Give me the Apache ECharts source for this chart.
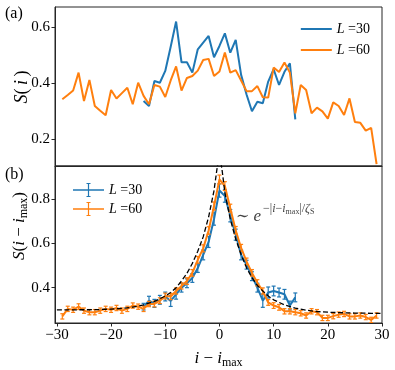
<!DOCTYPE html>
<html>
<head>
<meta charset="utf-8">
<script src="https://cdn.jsdelivr.net/npm/echarts@6/dist/echarts.min.js"></script>
<style>
  html, body { margin: 0; padding: 0; background: #fff; }
  #main { width: 395px; height: 370px; }
</style>
</head>
<body>
<div id="main"></div>
<script>
// tick labels
const xTicks = [-30, -20, -10, 0, 10, 20, 30]
const yTicksA = [0.2, 0.4, 0.6]
const yTicksB = [0.4, 0.6, 0.8]

// site positions
const sites60 = [-29, -28, -27, -26, -25, -24, -23, -22, -21, -20, -19, -18, -17, -16, -15, -14, -13, -12, -11, -10,
  -9, -8, -7, -6, -5, -4, -3, -2, -1, 0, 1, 2, 3, 4, 5, 6, 7, 8, 9, 10,
  11, 12, 13, 14, 15, 16, 17, 18, 19, 20, 21, 22, 23, 24, 25, 26, 27, 28, 29]
const sites30 = [-14, -13, -12, -11, -10, -9, -8, -7, -6, -5, -4, -3, -2, -1, 0,
  1, 2, 3, 4, 5, 6, 7, 8, 9, 10, 11, 12, 13, 14]

// (a) S(i)
const sA30 = [0.337, 0.319, 0.408, 0.402, 0.444, 0.53, 0.62, 0.475, 0.475, 0.438, 0.521, 0.545, 0.569, 0.493, 0.533,
  0.578, 0.509, 0.555, 0.43, 0.36, 0.30, 0.334, 0.329, 0.406, 0.45, 0.394, 0.441, 0.471, 0.271]
const sA60 = [0.343, 0.358, 0.374, 0.438, 0.337, 0.412, 0.319, 0.302, 0.286, 0.376, 0.346, 0.365, 0.384, 0.325, 0.402,
  0.355, 0.325, 0.394, 0.388, 0.351, 0.41, 0.46, 0.374, 0.419, 0.426, 0.445, 0.483, 0.487, 0.426, 0.442,
  0.51, 0.438, 0.447, 0.41, 0.372, 0.372, 0.39, 0.35, 0.349, 0.456, 0.44, 0.474, 0.438, 0.293, 0.394,
  0.376, 0.293, 0.313, 0.30, 0.274, 0.332, 0.319, 0.287, 0.346, 0.262, 0.259, 0.231, 0.241, 0.112]

// (b) S(i - imax) with error bars
const sB30 = [0.314, 0.341, 0.329, 0.345, 0.36, 0.34, 0.37, 0.40, 0.42, 0.444, 0.489, 0.548, 0.607, 0.711, 0.84,
  0.815, 0.726, 0.64, 0.548, 0.504, 0.452, 0.40, 0.341, 0.378, 0.385, 0.378, 0.37, 0.319, 0.356]
const eB30 = [0.015, 0.02, 0.018, 0.02, 0.02, 0.025, 0.022, 0.02, 0.02, 0.02, 0.02, 0.022, 0.025, 0.028, 0.03,
  0.028, 0.028, 0.025, 0.022, 0.02, 0.02, 0.02, 0.03, 0.025, 0.022, 0.02, 0.022, 0.02, 0.02]
const sB60 = [0.27, 0.304, 0.30, 0.314, 0.296, 0.289, 0.289, 0.296, 0.304, 0.30, 0.308, 0.296, 0.304, 0.319, 0.314,
  0.304, 0.326, 0.326, 0.341, 0.362, 0.36, 0.385, 0.408, 0.43, 0.467, 0.526, 0.578, 0.659, 0.77, 0.89,
  0.86, 0.76, 0.66, 0.58, 0.519, 0.467, 0.422, 0.385, 0.333, 0.319, 0.311, 0.293, 0.293, 0.289, 0.284,
  0.274, 0.293, 0.289, 0.263, 0.263, 0.271, 0.278, 0.281, 0.27, 0.27, 0.274, 0.267, 0.254, 0.274]
const eB60 = [0.012, 0.012, 0.012, 0.013, 0.012, 0.012, 0.012, 0.012, 0.012, 0.012, 0.012, 0.012, 0.012, 0.012, 0.012,
  0.012, 0.012, 0.013, 0.013, 0.013, 0.014, 0.014, 0.014, 0.015, 0.015, 0.015, 0.016, 0.017, 0.018, 0.02,
  0.02, 0.018, 0.017, 0.016, 0.015, 0.015, 0.014, 0.014, 0.013, 0.013, 0.013, 0.012, 0.012, 0.012, 0.012,
  0.012, 0.012, 0.012, 0.012, 0.012, 0.012, 0.012, 0.012, 0.012, 0.012, 0.012, 0.012, 0.012, 0.012]

// dashed fit ~ exp(-|i-imax|/zeta)
const fitX = [-30, -28, -26, -24, -22, -20, -18, -16, -14, -12, -10, -9, -8, -7, -6, -5, -4, -3, -2, -1, -0.5, 0,
  0.5, 1, 2, 3, 4, 5, 6, 7, 8, 9, 10, 12, 14, 16, 18, 20, 22, 25, 28, 30]
const fitY = [0.299, 0.299, 0.300, 0.300, 0.301, 0.303, 0.306, 0.312, 0.322, 0.338, 0.362, 0.378, 0.40, 0.43, 0.465, 0.51,
  0.565, 0.63, 0.72, 0.84, 0.93, 1.01, 0.93, 0.83, 0.71, 0.62, 0.55, 0.49, 0.445, 0.41, 0.385, 0.362, 0.345,
  0.322, 0.307, 0.298, 0.292, 0.289, 0.287, 0.285, 0.284, 0.284]

const C30 = '#1f77b4'
const C60 = '#ff7f0e'
const AX = '#262626'
const SERIF = '"Liberation Serif", "DejaVu Serif", serif'

const minus = v => String(v).replace('-', '\u2212')
const pairs = (xs, ys) => xs.map((x, k) => [x, ys[k]])

function errorBars (xs, ys, es, color, z) {
  return {
    type: 'custom',
    xAxisIndex: 1,
    yAxisIndex: 1,
    z: z,
    silent: true,
    clip: true,
    data: xs.map((x, k) => [x, ys[k] - es[k], ys[k] + es[k]]),
    encode: { x: 0, y: [1, 2] },
    renderItem (params, api) {
      const lo = api.coord([api.value(0), api.value(1)])
      const hi = api.coord([api.value(0), api.value(2)])
      const w = 2
      const st = { stroke: color, lineWidth: 1.2 }
      return {
        type: 'group',
        children: [
          { type: 'line', shape: { x1: lo[0], y1: lo[1], x2: hi[0], y2: hi[1] }, style: st },
          { type: 'line', shape: { x1: lo[0] - w, y1: lo[1], x2: lo[0] + w, y2: lo[1] }, style: st },
          { type: 'line', shape: { x1: hi[0] - w, y1: hi[1], x2: hi[0] + w, y2: hi[1] }, style: st }
        ]
      }
    }
  }
}

const legendRich = { i: { fontFamily: SERIF, fontStyle: 'italic', fontSize: 14, color: '#000' } }
const legendFmt = name => '{i|L} =' + name.split('=')[1]

const axisCommon = {
  type: 'value',
  axisLine: { show: true, onZero: false, lineStyle: { color: AX, width: 1 } },
  splitLine: { show: false }
}

const chart = echarts.init(document.getElementById('main'))
chart.setOption({
  animation: false,
  backgroundColor: '#fff',
  grid: [
    { left: 55, right: 13, top: 7, height: 159, show: true, borderColor: AX, borderWidth: 1 },
    { left: 55, right: 13, top: 166, height: 160, show: true, borderColor: AX, borderWidth: 1 }
  ],
  xAxis: [
    Object.assign({}, axisCommon, {
      gridIndex: 0, min: -30.35, max: 30,
      axisTick: { show: false }, axisLabel: { show: false }
    }),
    Object.assign({}, axisCommon, {
      gridIndex: 1, min: -30.35, max: 30,
      axisTick: { show: true, length: 3.5, customValues: xTicks, lineStyle: { color: AX } },
      axisLabel: { customValues: xTicks, formatter: minus, margin: 5, fontFamily: SERIF, fontSize: 15, color: '#000' },
      name: '{it|i} \u2212 {it|i}{sub|max}',
      nameLocation: 'middle',
      nameGap: 26,
      nameTextStyle: {
        fontFamily: SERIF, fontSize: 17, color: '#000',
        rich: {
          it: { fontFamily: SERIF, fontStyle: 'italic', fontSize: 17, color: '#000' },
          sub: { fontFamily: SERIF, fontSize: 12, color: '#000', padding: [8, 0, 0, 0] }
        }
      }
    })
  ],
  yAxis: [
    Object.assign({}, axisCommon, {
      gridIndex: 0, min: 0.105, max: 0.672,
      axisTick: { show: true, length: 3.5, customValues: yTicksA, lineStyle: { color: AX } },
      axisLabel: { customValues: yTicksA, formatter: v => v.toFixed(1), margin: 5, fontFamily: SERIF, fontSize: 15, color: '#000' }
    }),
    Object.assign({}, axisCommon, {
      gridIndex: 1, min: 0.24, max: 0.951,
      axisTick: { show: true, length: 3.5, customValues: yTicksB, lineStyle: { color: AX } },
      axisLabel: { customValues: yTicksB, formatter: v => v.toFixed(1), margin: 5, fontFamily: SERIF, fontSize: 15, color: '#000' }
    })
  ],
  legend: [
    {
      data: ['L =30', 'L =60'],
      orient: 'vertical',
      right: 20,
      top: 17,
      itemWidth: 31,
      itemHeight: 2,
      itemGap: 7,
      icon: 'path://M0,0H31V2H0Z',
      selectedMode: false,
      formatter: legendFmt,
      textStyle: { fontFamily: SERIF, fontSize: 14, color: '#000', rich: legendRich }
    },
    {
      data: ['L =30', 'L =60'],
      orient: 'vertical',
      left: 68,
      top: 178,
      itemWidth: 31,
      itemHeight: 14,
      itemGap: 5,
      icon: 'path://M0,6.3H31V7.7H0Z M14.9,0H16.1V14H14.9Z M13.5,0H17.5V1.1H13.5Z M13.5,12.9H17.5V14H13.5Z',
      selectedMode: false,
      formatter: legendFmt,
      textStyle: { fontFamily: SERIF, fontSize: 14, color: '#000', rich: legendRich }
    }
  ],
  series: [
    {
      name: 'L =30', type: 'line', xAxisIndex: 0, yAxisIndex: 0,
      data: pairs(sites30, sA30), showSymbol: false, color: C30,
      lineStyle: { width: 2, color: C30 }, z: 3
    },
    {
      name: 'L =60', type: 'line', xAxisIndex: 0, yAxisIndex: 0,
      data: pairs(sites60, sA60), showSymbol: false, color: C60,
      lineStyle: { width: 2, color: C60 }, z: 4
    },
    {
      name: 'L =30', type: 'line', xAxisIndex: 1, yAxisIndex: 1,
      data: pairs(sites30, sB30), showSymbol: false, color: C30,
      lineStyle: { width: 2, color: C30 }, z: 3
    },
    errorBars(sites30, sB30, eB30, C30, 4),
    {
      name: 'L =60', type: 'line', xAxisIndex: 1, yAxisIndex: 1,
      data: pairs(sites60, sB60), showSymbol: false, color: C60,
      lineStyle: { width: 2, color: C60 }, z: 5
    },
    errorBars(sites60, sB60, eB60, C60, 6),
    {
      name: 'fit', type: 'line', xAxisIndex: 1, yAxisIndex: 1,
      data: pairs(fitX, fitY), showSymbol: false, silent: true, clip: true,
      lineStyle: { width: 1.3, color: '#000', type: [5, 2.5] }, z: 7
    }
  ],
  graphic: [
    { type: 'text', left: 5, top: 6, style: { text: '(a)', font: '16px ' + SERIF, fill: '#000' } },
    { type: 'text', left: 5, top: 167, style: { text: '(b)', font: '16px ' + SERIF, fill: '#000' } },
    {
      type: 'text', x: 22, y: 87, rotation: Math.PI / 2,
      style: {
        text: '{it|S}(\u2009{it|i}\u2009)', align: 'center', verticalAlign: 'middle',
        font: '18px ' + SERIF, fill: '#000',
        rich: { it: { fontFamily: SERIF, fontStyle: 'italic', fontSize: 18, fill: '#000' } }
      }
    },
    {
      type: 'text', x: 20, y: 226, rotation: Math.PI / 2,
      style: {
        text: '{it|S}({it|i} \u2212 {it|i}{sub|max})', align: 'center', verticalAlign: 'middle',
        font: '17px ' + SERIF, fill: '#000',
        rich: {
          it: { fontFamily: SERIF, fontStyle: 'italic', fontSize: 17, fill: '#000' },
          sub: { fontFamily: SERIF, fontSize: 12, fill: '#000', padding: [8, 0, 0, 0] }
        }
      }
    },
    {
      type: 'text', left: 236, top: 208,
      style: {
        text: '\u223c {it|e}', font: '16px ' + SERIF, fill: '#444',
        rich: { it: { fontFamily: SERIF, fontStyle: 'italic', fontSize: 17, fill: '#444' } }
      }
    },
    {
      type: 'text', left: 263, top: 203,
      style: {
        text: '\u2212|{it|i}\u2212{it|i}{sub|max}|/{it|\u03b6}{sub|S}', font: '12px ' + SERIF, fill: '#444',
        rich: {
          it: { fontFamily: SERIF, fontStyle: 'italic', fontSize: 12, fill: '#444' },
          sub: { fontFamily: SERIF, fontSize: 8, fill: '#444', padding: [5, 0, 0, 0] }
        }
      }
    }
  ]
})
</script>
</body>
</html>
